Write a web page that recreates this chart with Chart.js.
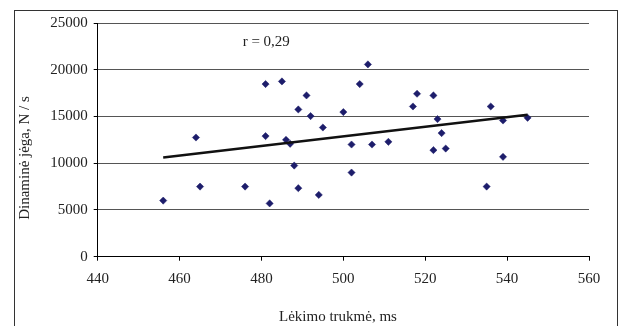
<!DOCTYPE html>
<html>
<head>
<meta charset="utf-8">
<script src="https://cdn.jsdelivr.net/npm/chart.js@4"></script>
<style>
  html, body { margin: 0; padding: 0; background: #fff; overflow: hidden; }
  #wrap { position: relative; width: 622px; height: 326px; }
  #frame { position: absolute; left: 14px; top: 10px; width: 604px; height: 400px; border: 1px solid #333; box-sizing: border-box; pointer-events: none; }
  canvas { position: absolute; left: 0; top: 0; }
</style>
</head>
<body>
<div id="wrap">
  <canvas id="viz" width="622" height="326"></canvas>
  <div id="frame"></div>
</div>
<script>
// Flight time (ms) vs dynamic force (N/s)
const xValues = [456, 465, 476, 482, 488, 489, 494, 464, 481, 485,
                 481, 491, 489, 492, 486, 487, 495, 500, 502, 504,
                 506, 507, 511, 517, 518, 522, 523, 524, 522, 525,
                 536, 539, 545, 539, 502, 535];
const yValues = [6000, 7500, 7500, 5700, 9750, 7330, 6610, 12750, 18470, 18750,
                 12900, 17250, 15750, 15040, 12500, 12080, 13820, 15470, 12000, 18470,
                 20570, 12000, 12290, 16070, 17430, 17250, 14720, 13220, 11400, 11570,
                 16070, 14570, 14860, 10680, 9000, 7500];

// Trend line ends
const trendX = [456, 545];
const trendY = [10620, 15180];

const xTicks = [440, 460, 480, 500, 520, 540, 560];
const yTicks = [0, 5000, 10000, 15000, 20000, 25000];

const xTitle = 'Lėkimo trukmė, ms';
const yTitle = 'Dinaminė jėga, N / s';
const note = 'r = 0,29';
const notePos = [475.4, 23000];

const FONT = { family: '"Liberation Serif", "Times New Roman", serif', size: 15 };
const INK = '#222';

// Texts that Chart.js would not place where the original has them
const textPlugin = {
  id: 'texts',
  afterDatasetsDraw(chart) {
    const { ctx, scales: { x, y } } = chart;
    ctx.save();
    ctx.font = `${FONT.size}px ${FONT.family}`;
    ctx.fillStyle = INK;
    ctx.textBaseline = 'middle';
    ctx.textAlign = 'left';
    ctx.fillText(note, x.getPixelForValue(notePos[0]), y.getPixelForValue(notePos[1]));
    // x title
    ctx.textAlign = 'center';
    ctx.fillText(xTitle, 338, 317);
    // y title, rotated
    ctx.translate(25, 158);
    ctx.rotate(-Math.PI / 2);
    ctx.fillText(yTitle, 0, 0);
    ctx.restore();
  }
};

new Chart(document.getElementById('viz'), {
  type: 'scatter',
  data: {
    datasets: [
      {
        type: 'line',
        data: trendX.map((v, i) => ({ x: v, y: trendY[i] })),
        borderColor: '#111',
        borderWidth: 2.5,
        pointRadius: 0,
        fill: false
      },
      {
        data: xValues.map((v, i) => ({ x: v, y: yValues[i] })),
        pointStyle: 'rectRot',
        pointRadius: 3.6,
        borderWidth: 0.5,
        backgroundColor: '#1d1d6b',
        borderColor: '#1d1d6b'
      }
    ]
  },
  options: {
    responsive: false,
    animation: false,
    layout: { padding: { left: 0, right: 33, top: 23, bottom: 0 } },
    plugins: { legend: { display: false }, tooltip: { enabled: false } },
    scales: {
      x: {
        type: 'linear',
        min: xTicks[0],
        max: xTicks[xTicks.length - 1],
        afterBuildTicks: (s) => { s.ticks = xTicks.map(v => ({ value: v })); },
        afterFit: (s) => { s.height = 69.3; },
        grid: { drawOnChartArea: false, drawTicks: true, tickLength: 4, tickColor: '#000' },
        border: { color: '#000', width: 1 },
        ticks: { font: FONT, color: INK, padding: 9, maxRotation: 0 }
      },
      y: {
        min: yTicks[0],
        max: yTicks[yTicks.length - 1],
        afterBuildTicks: (s) => { s.ticks = yTicks.map(v => ({ value: v })); },
        afterFit: (s) => { s.width = 97.7; },
        grid: { color: '#555', lineWidth: 1, drawTicks: true, tickLength: 4, tickColor: '#000' },
        border: { color: '#000', width: 1 },
        ticks: { font: FONT, color: INK, padding: 6, callback: (v) => String(v) }
      }
    }
  },
  plugins: [textPlugin]
});
</script>
</body>
</html>
